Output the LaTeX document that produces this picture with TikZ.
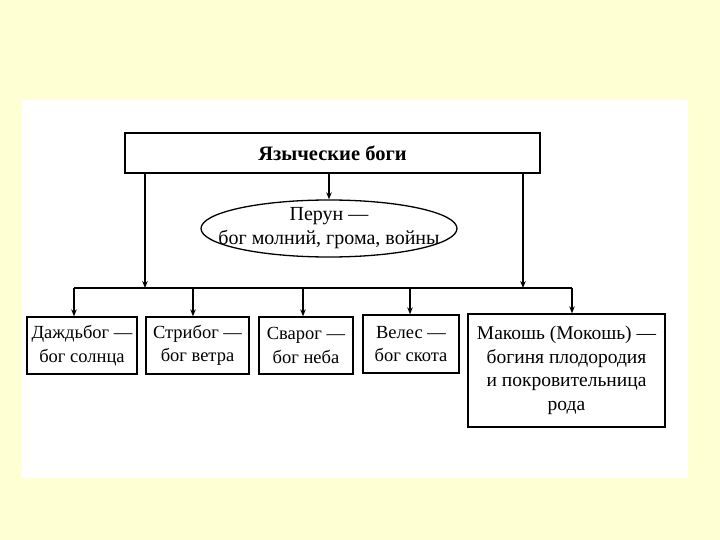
\documentclass[tikz,border=0pt]{standalone}
\usepackage{fontspec}
\setmainfont{Liberation Serif}
\usetikzlibrary{shapes.geometric,arrows.meta}
\definecolor{bgyellow}{RGB}{255,255,212}
\begin{document}
\begin{tikzpicture}[x=1pt,y=-1pt,
  godbox/.style={draw,line width=1.3pt,rectangle,inner sep=0pt,align=center,font=\fontsize{18.5}{23.5}\selectfont},
  conn/.style={line width=1.2pt},
  arr/.style={conn,-{Stealth[length=7pt,width=5.5pt]}}]
\fill[bgyellow] (0,0) rectangle (720,540);
\useasboundingbox (0,0) rectangle (720,540);
\fill[white] (22,100) rectangle (688,478);
\node[godbox,minimum width=415pt,minimum height=40pt,font=\fontsize{20.5}{24}\selectfont\bfseries] (top) at (332.5,153) {Языческие боги};
\node[draw,line width=1.3pt,ellipse,inner sep=0pt,minimum width=256pt,minimum height=57pt] (perun) at (329,228.5) {};
\node[align=center,inner sep=0pt,font=\fontsize{20}{24}\selectfont] (peruntext) at (perun.center) {Перун —\\бог молний, грома, войны};
\node[godbox,minimum width=110pt,minimum height=57pt] (b1) at (82,345.5) {Даждьбог —\\бог солнца};
\node[godbox,minimum width=103pt,minimum height=57pt] (b2) at (197.5,345.5) {Стрибог —\\бог ветра};
\node[godbox,minimum width=94pt,minimum height=57pt] (b3) at (306,345.5) {Сварог —\\бог неба};
\node[godbox,minimum width=96pt,minimum height=58pt] (b4) at (411,344) {Велес —\\бог скота};
\node[godbox,minimum width=197pt,minimum height=113pt,font=\fontsize{19.5}{23.5}\selectfont] (b5) at (566.5,370.5) {Макошь (Мокошь) —\\богиня плодородия\\и покровительница\\рода};
\coordinate (busL) at (74,288);
\coordinate (busR) at (572,288);
\coordinate (inL) at (145,288);
\coordinate (inR) at (523,288);
\coordinate (d2) at (193,288);
\coordinate (d3) at (303,288);
\coordinate (d4) at (410,288);
\draw[arr] (top.south -| inL) -- (inL);
\draw[arr] (top.south -| inR) -- (inR);
\draw[arr] (top.south -| perun.north) -- (perun.north);
\draw[conn] (busL) -- (busR);
\draw[arr] (busL) -- (busL |- b1.north);
\draw[arr] (d2) -- (d2 |- b2.north);
\draw[arr] (d3) -- (d3 |- b3.north);
\draw[arr] (d4) -- (d4 |- b4.north);
\draw[arr] (busR) -- (busR |- b5.north);
\end{tikzpicture}
\end{document}
